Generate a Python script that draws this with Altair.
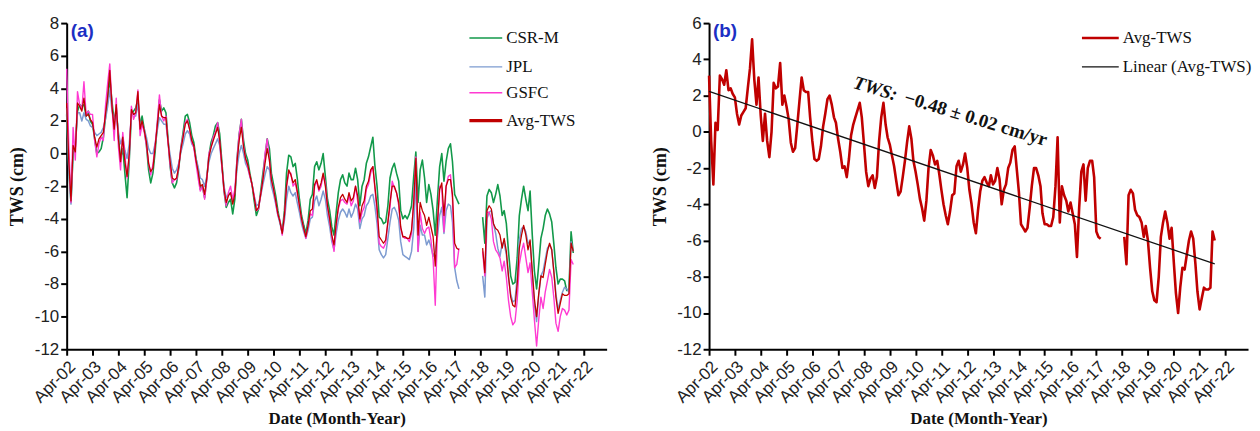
import altair as alt
import pandas as pd

# ---------------- data (monthly, Apr-2002 .. Nov-2021; gap Jul-2017..Apr-2018) ----------------
dates = pd.date_range("2002-04-01", "2021-11-01", freq="MS")

avg_a = [3.1, -0.5, -2.9, 0.5, 0.1, 3.1, 2.9, 2.6, 3.4, 2.3, 2.4, 2.1,
         1.9, 1.0, 0.4, 0.9, 1.1, 1.3, 2.4, 3.5, 5.1, 2.9, 1.5, 3.0,
         0.9, -0.5, 1.0, -0.5, -1.4, 0.0, 2.7, 2.4, 2.5, 3.8, 1.5, 2.0,
         1.4, 0.7, -0.6, -1.1, -0.9, 0.4, 1.7, 3.0, 2.3, 2.2, 2.2, 0.8,
         -0.5, -1.5, -1.6, -1.5, -0.8, 0.3, 1.0, 1.8, 2.0, 1.5, 0.8, 0.5,
         -0.4, -1.1, -2.0, -1.9, -2.5, -1.5, -0.2, 0.4, 0.8, 1.2, 1.6, 0.8,
         -0.7, -2.2, -3.0, -2.6, -2.4, -3.1, -2.5, -0.5, 0.8, 1.6, 0.4, -0.3,
         -0.7, -1.3, -1.9, -2.7, -3.5, -3.3, -2.5, -1.6, -0.6, 0.3, -0.4, -1.6,
         -2.2, -2.9, -3.7, -4.2, -4.9, -3.8, -2.0, -1.0, -1.3, -1.8, -1.6, -2.3,
         -3.2, -4.0, -4.6, -5.1, -4.4, -3.5, -3.4, -1.9, -1.6, -2.2, -1.8, -1.2,
         -2.0, -3.2, -4.0, -5.0, -5.6, -4.3, -3.3, -2.7, -2.5, -2.8, -3.0, -2.4,
         -2.9, -2.7, -2.0, -2.6, -4.0, -3.2, -2.9, -2.0, -1.7, -1.0, -0.8, -2.0,
         -3.3, -5.1, -5.3, -5.5, -5.3, -4.2, -3.0, -2.0, -2.0, -2.4, -3.0, -4.5,
         -5.1, -5.1, -5.2, -5.2, -4.7, -3.0, -0.3, -5.0, -3.0, -3.5, -3.8, -4.4,
         -3.9, -4.5, -5.1, -6.9, -4.2, -2.2, -1.8, -3.8, -2.0, -1.6, -1.6, -2.5,
         -5.5, -5.8, -5.9]
avg_b = [-5.8, -7.3, -3.5, -3.2, -3.4, -4.3, -4.6, -4.7, -5.0, -5.8,
         -5.2, -6.0, -7.5, -8.8, -9.3, -9.4, -8.0, -5.8, -5.0, -4.4,
         -5.0, -5.9, -5.3, -7.2, -8.9, -10.0, -8.6, -7.5, -7.6, -6.8,
         -6.0, -5.5, -5.9, -7.3, -8.8, -9.8, -9.2, -8.6, -8.7, -8.7,
         -8.6, -5.5, -6.0]

csr_a = [2.4, -0.8, -3.0, 0.0, 0.4, 2.6, 3.0, 2.9, 3.0, 2.3, 2.6, 2.0,
         1.8, 0.9, 0.0, 0.1, 0.3, 1.0, 2.2, 3.3, 4.6, 3.2, 1.9, 2.8,
         1.0, -0.3, 0.3, -1.2, -2.7, -0.4, 2.4, 2.6, 2.8, 3.3, 1.7, 2.3,
         1.5, 0.5, -1.0, -1.8, -1.2, 0.1, 1.7, 3.3, 2.6, 2.8, 2.5, 1.0,
         -0.8, -1.8, -2.1, -1.8, -0.9, 0.4, 1.3, 2.3, 2.4, 1.9, 1.1, 0.7,
         -0.3, -1.0, -2.2, -2.0, -2.7, -1.5, -0.1, 0.7, 1.1, 1.7, 1.9, 1.2,
         -0.5, -2.3, -3.3, -3.0, -2.8, -3.7, -2.8, -0.3, 1.2, 2.1, 0.8, 0.0,
         -0.4, -1.2, -1.9, -2.9, -3.8, -3.4, -2.3, -1.2, -0.2, 0.9, 0.3, -1.2,
         -1.9, -2.6, -3.5, -4.2, -4.8, -3.5, -1.2, -0.1, -0.2, -0.8, -0.6, -1.5,
         -2.8, -3.8, -4.4, -4.9, -4.1, -2.8, -2.5, -0.8, -0.5, -1.0, -0.6, 0.0,
         -1.4, -2.8, -3.5, -4.5, -5.0, -3.6, -2.4, -1.6, -1.3, -1.8, -2.0, -1.2,
         -1.6, -1.6, -0.9, -1.6, -3.2, -2.0, -1.6, -0.6, -0.2, 0.4, 1.0, -0.7,
         -2.0, -3.9, -4.0, -4.3, -4.2, -3.2, -1.5, -0.9, -0.6, -1.2, -1.7, -3.5,
         -4.0, -3.8, -4.0, -3.7, -3.2, -1.4, 0.1, -3.0, -1.0, -0.4, -1.5, -3.0,
         -1.9, -2.5, -3.5, -5.0, -2.8, -0.8, 0.0, -1.7, -0.5, 0.3, 0.6, -0.5,
         -2.5, -2.8, -3.1]
csr_b = [-3.9, -5.5, -2.6, -2.2, -2.4, -3.0, -2.5, -1.9, -2.6, -3.8,
         -3.5, -4.3, -6.0, -7.5, -8.0, -7.9, -6.4, -3.8, -2.8, -2.0,
         -2.8, -3.5, -2.3, -5.0, -7.2, -8.3, -6.8, -5.2, -4.6, -3.8,
         -3.4, -3.7, -4.2, -5.6, -7.0, -8.0, -7.7, -7.7, -7.8, -8.4,
         -8.3, -4.8, -6.1]

jpl_a = [2.8, -1.0, -3.1, 0.2, 0.5, 2.5, 2.5, 2.0, 2.5, 2.1, 2.0, 1.7,
         1.6, 1.3, 1.1, 1.2, 1.3, 1.6, 2.1, 2.9, 3.9, 2.6, 2.0, 2.6,
         1.3, 0.6, 1.0, 0.2, -0.3, 0.6, 2.3, 2.5, 2.3, 3.0, 1.8, 1.9,
         1.5, 1.0, 0.3, 0.0, 0.0, 0.6, 1.4, 2.2, 2.0, 1.8, 1.8, 0.8,
         -0.1, -0.9, -1.2, -1.0, -0.6, 0.1, 0.6, 1.2, 1.4, 1.2, 0.6, 0.4,
         -0.3, -0.8, -1.5, -1.6, -2.0, -1.4, -0.5, 0.0, 0.3, 0.6, 0.9, 0.5,
         -0.8, -2.0, -2.7, -2.5, -2.4, -2.9, -2.4, -0.9, 0.0, 0.5, 0.0, -0.6,
         -0.9, -1.4, -1.9, -2.6, -3.2, -3.1, -2.6, -1.9, -1.3, -0.8, -1.0, -2.0,
         -2.5, -3.1, -3.8, -4.3, -4.9, -4.1, -2.8, -2.0, -2.4, -2.6, -2.4, -3.0,
         -3.6, -4.3, -4.8, -5.2, -4.7, -4.0, -3.9, -2.9, -2.6, -3.2, -2.8, -2.3,
         -2.8, -3.8, -4.5, -5.4, -5.9, -4.9, -4.1, -3.6, -3.4, -3.6, -3.9, -3.4,
         -3.9, -3.6, -3.1, -3.4, -4.6, -4.0, -3.8, -3.2, -3.0, -2.6, -2.5, -3.2,
         -4.3, -5.9, -6.2, -6.4, -6.2, -5.2, -4.2, -3.4, -3.3, -3.6, -4.1, -5.4,
         -6.2, -6.3, -6.4, -6.5, -6.0, -4.6, -1.5, -6.0, -4.4, -5.0, -5.0, -5.6,
         -5.3, -5.7, -6.3, -6.0, -5.1, -3.8, -3.3, -4.9, -3.5, -3.1, -3.2, -4.2,
         -7.0, -7.8, -8.3]
jpl_b = [-7.5, -8.8, -4.0, -3.6, -3.5, -4.3, -4.9, -5.8, -6.3, -5.5,
         -5.5, -6.2, -7.6, -8.6, -9.1, -9.0, -7.6, -5.3, -4.6, -4.5,
         -4.8, -5.5, -5.4, -7.4, -9.3, -10.3, -8.7, -7.5, -7.2, -6.5,
         -5.8, -5.6, -5.9, -7.3, -8.6, -9.6, -9.0, -8.5, -8.2, -8.3,
         -8.5, -5.4, -6.0]

gsfc_a = [5.2, 0.5, -3.0, 1.6, -0.4, 3.8, 3.0, 2.7, 4.4, 2.4, 2.6, 2.4,
          2.4, 0.8, -0.2, 0.6, 1.0, 0.8, 2.9, 4.3, 5.5, 2.9, 0.8, 3.4,
          0.4, -1.0, 1.3, -0.1, -1.5, -0.2, 2.9, 2.1, 2.5, 3.9, 1.1, 1.8,
          1.3, 0.5, -0.6, -1.3, -0.7, 0.5, 1.9, 3.6, 2.3, 2.0, 2.3, 0.7,
          -0.7, -1.8, -1.6, -1.6, -0.8, 0.4, 1.1, 1.9, 2.1, 1.5, 0.7, 0.4,
          -0.6, -1.5, -2.3, -2.0, -2.8, -1.6, 0.0, 0.4, 1.0, 1.3, 1.9, 0.7,
          -0.8, -2.3, -3.2, -2.4, -2.0, -2.8, -2.2, -0.3, 1.2, 2.1, 0.5, -0.3,
          -0.8, -1.4, -1.9, -2.6, -3.5, -3.4, -2.5, -1.6, 0.0, 0.9, -0.4, -1.6,
          -2.2, -3.0, -3.8, -4.1, -5.0, -3.8, -2.0, -1.2, -1.2, -2.0, -1.8, -2.4,
          -3.2, -4.0, -4.6, -5.2, -4.4, -3.7, -3.8, -2.0, -1.7, -2.3, -2.0, -1.3,
          -1.8, -3.3, -4.1, -5.1, -6.0, -4.4, -3.4, -2.9, -2.8, -3.0, -3.1, -2.6,
          -3.2, -2.9, -2.0, -2.9, -4.2, -3.6, -3.3, -2.2, -1.9, -1.2, -0.8, -2.1,
          -3.6, -5.5, -5.7, -5.8, -5.5, -4.2, -3.3, -1.7, -2.1, -2.4, -3.2, -4.6,
          -5.1, -5.2, -5.2, -5.4, -4.9, -2.9, -0.2, -6.0, -3.6, -4.6, -4.9, -4.6,
          -4.5, -5.3, -6.5, -9.3, -4.7, -2.0, -2.1, -4.8, -2.0, -1.4, -1.3, -2.8,
          -7.0, -6.8, -5.8]
gsfc_b = [-6.0, -7.5, -3.6, -3.6, -4.0, -5.4, -5.9, -6.1, -6.4, -7.2,
          -6.6, -7.6, -9.0, -10.0, -10.5, -10.3, -9.0, -6.8, -6.0, -5.5,
          -6.4, -7.3, -6.7, -8.5, -10.2, -11.8, -10.2, -8.8, -9.5, -8.5,
          -7.8, -7.1, -7.6, -8.9, -10.4, -10.9, -10.0, -9.5, -9.6, -9.9,
          -9.6, -6.5, -6.8]

GAP = [None] * 10
series_names = ["CSR-M", "JPL", "GSFC", "Avg-TWS"]
series_vals = {
    "CSR-M": csr_a + GAP + csr_b,
    "JPL": jpl_a + GAP + jpl_b,
    "GSFC": gsfc_a + GAP + gsfc_b,
    "Avg-TWS": avg_a + GAP + avg_b,
}
series_colors = ["#12994a", "#7d9bd0", "#ff3ad2", "#c00000"]
series_widths = [1.6, 1.3, 1.5, 3.2]

tick_years = list(range(2002, 2023))

# ---------------- tables ----------------
long_rows = []
for name in series_names:
    for d, v in zip(dates, series_vals[name]):
        long_rows.append({"date": d, "tws": v, "series": name})
df_long = pd.DataFrame(long_rows)
df_avg = pd.DataFrame({"date": dates, "tws": series_vals["Avg-TWS"]})

W_A, W_B, H = 543, 542, 328

x_ticks = [alt.DateTime(year=y, month=4, date=1) for y in tick_years]
x_dom = [alt.DateTime(year=2002, month=4, date=1), alt.DateTime(year=2023, month=2, date=15)]


def x_enc():
    return alt.X(
        "date:T",
        scale=alt.Scale(domain=x_dom, nice=False),
        axis=alt.Axis(values=x_ticks, format="%b-%y", labelAngle=-45, labelOverlap=False,
                      title="Date (Month-Year)", titlePadding=5, labelPadding=3),
    )


def y_enc(lo, hi):
    return alt.Y(
        "tws:Q",
        scale=alt.Scale(domain=[lo, hi], nice=False, zero=False),
        axis=alt.Axis(values=list(range(lo, hi + 1, 2)), labelExpr="'' + datum.value",
                      labelOverlap=False, title="TWS (cm)", titlePadding=6, titleFontSize=18,
                      minExtent=34, maxExtent=34),
    )


color_scale = alt.Scale(domain=series_names, range=series_colors)
width_scale = alt.Scale(domain=series_names, range=series_widths)


def legend_row(label, color, width, x0, x1, y):
    one = pd.DataFrame({"t": [label]})
    rule = alt.Chart(one).mark_rule(color=color, strokeWidth=width).encode(
        x=alt.value(x0), x2=alt.value(x1), y=alt.value(y))
    txt = alt.Chart(one).mark_text(
        align="left", baseline="middle", font="Liberation Serif", fontSize=17, color="#111"
    ).encode(x=alt.value(x1 + 4), y=alt.value(y), text="t:N")
    return [rule, txt]


def tag(label):
    return alt.Chart(pd.DataFrame({"t": [label]})).mark_text(
        align="left", baseline="middle", font="Liberation Sans", fontSize=19, fontWeight="bold",
        color="#1c2fc4").encode(x=alt.value(4), y=alt.value(8), text="t:N")


# ---------------- panel (a) ----------------
lines_a = alt.Chart(df_long).mark_line(strokeJoin="round").encode(
    x=x_enc(), y=y_enc(-12, 8),
    color=alt.Color("series:N", scale=color_scale, legend=None),
    strokeWidth=alt.StrokeWidth("series:N", scale=width_scale, legend=None),
)
leg_a = []
for i, (n, c, w) in enumerate(zip(series_names, series_colors, series_widths)):
    leg_a += legend_row(n, c, w, 405, 438, [15, 44, 70, 98][i])

panel_a = alt.layer(lines_a, *leg_a, tag("(a)")).properties(width=W_A, height=H)

# ---------------- panel (b) ----------------
line_b = alt.Chart(df_avg).mark_line(color="#c00000", strokeWidth=2.6, strokeJoin="round").encode(
    x=x_enc(), y=y_enc(-12, 6))
trend_b = alt.Chart(df_avg).transform_filter("isValid(datum.tws)").transform_regression(
    "date", "tws").mark_line(color="#111", strokeWidth=1.3).encode(x=x_enc(), y=y_enc(-12, 6))

leg_b = legend_row("Avg-TWS", "#c00000", 2.6, 375, 412, 15) + \
    legend_row("Linear (Avg-TWS)", "#111", 1.3, 375, 412, 44)

ann1 = alt.Chart(pd.DataFrame({"t": ["TWS:"]})).mark_text(
    align="left", baseline="alphabetic", angle=17, font="Liberation Serif", fontSize=19,
    fontWeight="bold", fontStyle="italic", color="#111"
).encode(x=alt.value(144), y=alt.value(65), text="t:N")
ann2 = alt.Chart(pd.DataFrame({"t": ["\u22120.48 \u00b1 0.02 cm/yr"]})).mark_text(
    align="left", baseline="alphabetic", angle=17, font="Liberation Serif", fontSize=19,
    fontWeight="bold", color="#111"
).encode(x=alt.value(195), y=alt.value(80), text="t:N")

panel_b = alt.layer(line_b, trend_b, *leg_b, tag("(b)"), ann1, ann2).properties(width=W_B, height=H)

chart = alt.hconcat(panel_a, panel_b, spacing=45).properties(
    padding={"left": 1, "top": 5, "right": 0, "bottom": 0}
).configure_view(stroke=None).configure_axis(
    domainColor="black", domainWidth=2, tickColor="black", tickWidth=2, tickSize=6,
    labelFont="Liberation Sans", labelFontSize=17, labelColor="#222",
    titleFont="Liberation Serif", titleFontWeight="bold", titleFontSize=17, titleColor="#111",
    grid=False,
)

chart.save("out.html", embed_options={"renderer": "svg", "actions": False})
